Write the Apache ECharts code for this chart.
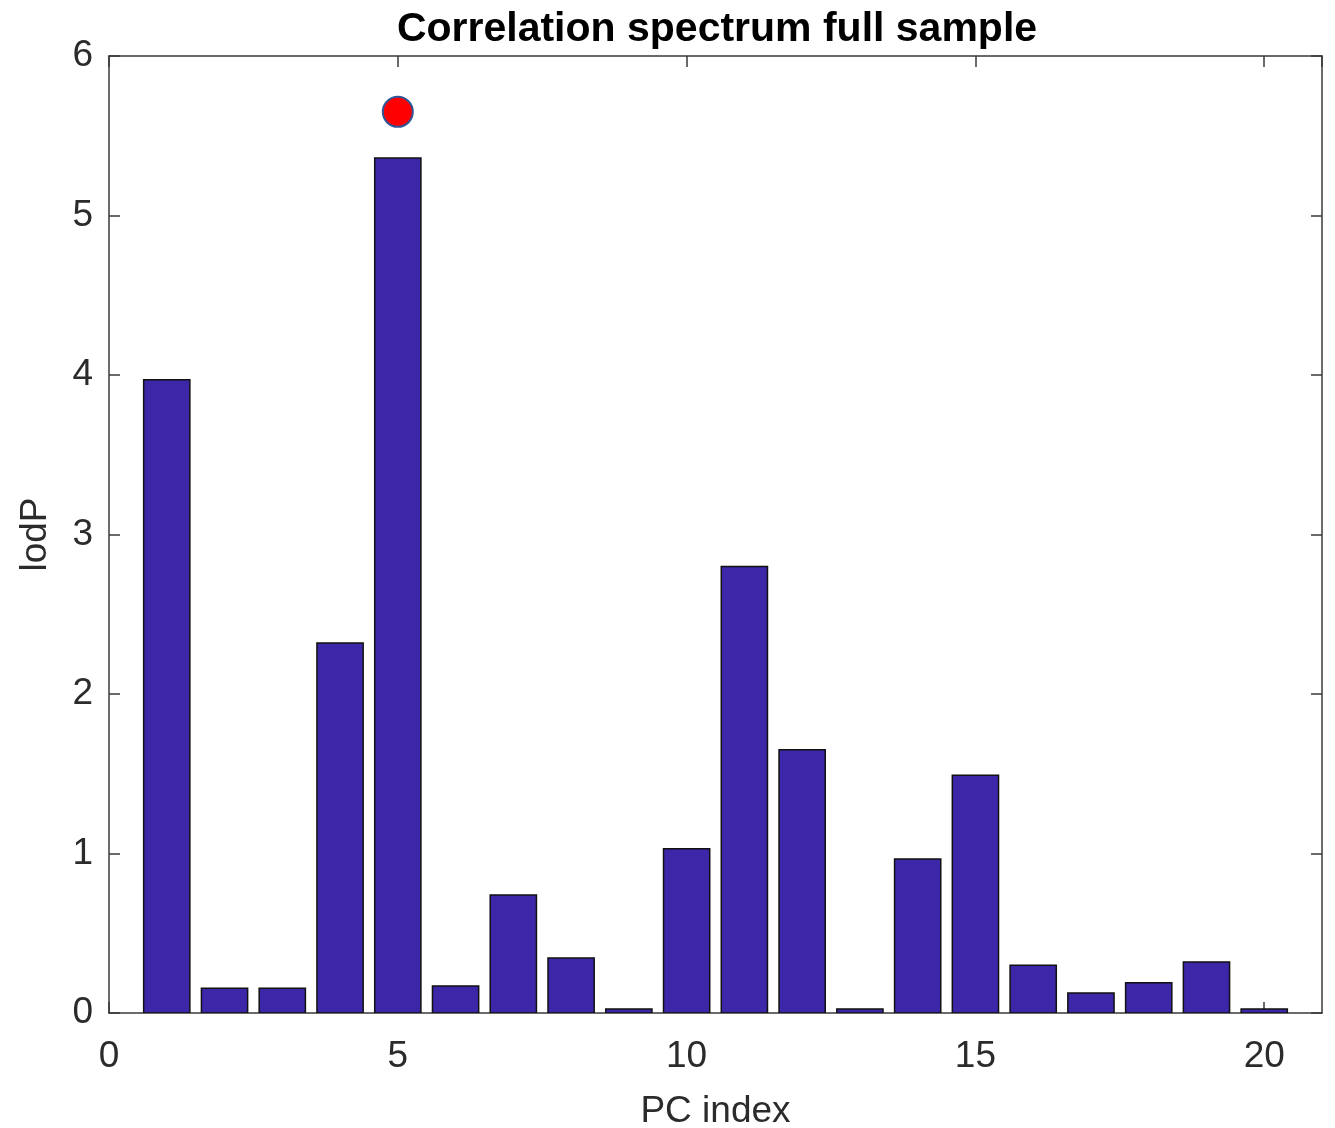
<!DOCTYPE html>
<html>
<head>
<meta charset="utf-8">
<script src="https://cdn.jsdelivr.net/npm/echarts@6/dist/echarts.min.js"></script>
<style>
  html, body { margin: 0; padding: 0; background: #fff; }
  #chart { width: 1335px; height: 1128px; }
</style>
</head>
<body>
<div id="chart"></div>
<script>
// PC indices and their lodP values
var pcIndex = [1, 2, 3, 4, 5, 6, 7, 8, 9, 10, 11, 12, 13, 14, 15, 16, 17, 18, 19, 20];
var lodP = [3.97, 0.155, 0.155, 2.32, 5.36, 0.17, 0.74, 0.345, 0.025, 1.03, 2.80, 1.65, 0.025, 0.965, 1.49, 0.30, 0.125, 0.19, 0.32, 0.025];
// highlighted peak marker
var peakPoint = [[5, 5.65]];
var xTicks = [0, 5, 10, 15, 20];
var yTicks = [0, 1, 2, 3, 4, 5, 6];

var FONT = '"Liberation Sans", Arial, Helvetica, sans-serif';
var AXIS_COLOR = '#3a3a3a';
var TEXT_COLOR = '#2b2b2b';
var BAR_FRAC = 0.8;

var barData = pcIndex.map(function (x, i) { return [x, lodP[i]]; });

var chart = echarts.init(document.getElementById('chart'), null, { renderer: 'canvas' });

function axisCommon(extra) {
  var base = {
    axisLine: { show: true, onZero: false, lineStyle: { color: AXIS_COLOR, width: 1.5 } },
    axisTick: { show: true, inside: true, length: 11, lineStyle: { color: AXIS_COLOR, width: 1.5 } },
    splitLine: { show: false },
    axisLabel: { color: TEXT_COLOR, fontFamily: FONT, fontSize: 37 }
  };
  return Object.assign(base, extra);
}

chart.setOption({
  backgroundColor: '#ffffff',
  animation: false,
  title: {
    text: 'Correlation spectrum full sample',
    left: 712, top: 4, textAlign: 'center',
    textStyle: { fontFamily: FONT, fontWeight: 'bold', fontSize: 41, color: '#000' }
  },
  grid: {
    left: 109, right: 13, top: 56, bottom: 115,
    containLabel: false,
    outerBoundsMode: 'none'
  },
  xAxis: [
    axisCommon({
      type: 'value', position: 'bottom', min: 0, max: 21, interval: 5,
      name: 'PC index', nameLocation: 'middle', nameGap: 80,
      nameTextStyle: { color: TEXT_COLOR, fontFamily: FONT, fontSize: 37 },
      axisLabel: {
        color: TEXT_COLOR, fontFamily: FONT, fontSize: 37, margin: 25,
        showMaxLabel: false,
        formatter: function (v) { return xTicks.indexOf(v) >= 0 ? String(v) : ''; }
      }
    }),
    axisCommon({
      type: 'value', position: 'top', min: 0, max: 21, interval: 5,
      axisLabel: { show: false }
    })
  ],
  yAxis: [
    axisCommon({
      type: 'value', position: 'left', min: 0, max: 6, interval: 1,
      name: 'lodP', nameLocation: 'middle', nameGap: 55, nameRotate: 90,
      nameTextStyle: { color: TEXT_COLOR, fontFamily: FONT, fontSize: 37 },
      axisLabel: {
        color: TEXT_COLOR, fontFamily: FONT, fontSize: 37, margin: 16,
        formatter: function (v) { return yTicks.indexOf(v) >= 0 ? String(v) : ''; }
      }
    }),
    axisCommon({
      type: 'value', position: 'right', min: 0, max: 6, interval: 1,
      axisLabel: { show: false }
    })
  ],
  series: [
    {
      type: 'custom',
      xAxisIndex: 0, yAxisIndex: 0,
      data: barData,
      z: 1,
      clip: true,
      renderItem: function (params, api) {
        var x = api.value(0), y = api.value(1);
        var p0 = api.coord([x - BAR_FRAC / 2, y]);
        var p1 = api.coord([x + BAR_FRAC / 2, 0]);
        return {
          type: 'rect',
          shape: { x: p0[0], y: p0[1], width: p1[0] - p0[0], height: p1[1] - p0[1] },
          style: { fill: '#3E26A8', stroke: '#111111', lineWidth: 1.5 }
        };
      }
    },
    {
      type: 'scatter',
      xAxisIndex: 0, yAxisIndex: 0,
      data: peakPoint,
      symbol: 'circle',
      symbolSize: 30,
      z: 3,
      itemStyle: { color: '#ff0000', opacity: 1, borderColor: '#2F5597', borderWidth: 2 }
    }
  ]
});
</script>
</body>
</html>
